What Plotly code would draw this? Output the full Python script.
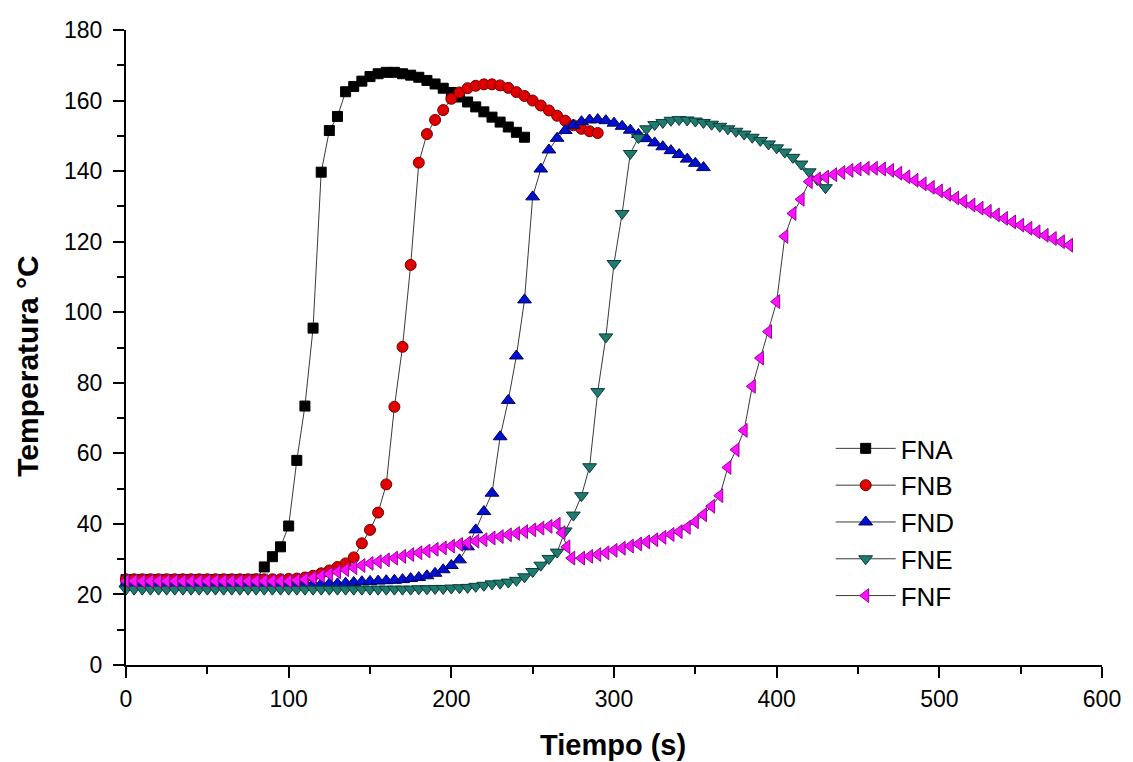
import plotly.graph_objects as go

# ---------------- data ----------------
fna_t = [0, 5, 10, 15, 20, 25, 30, 35, 40, 45, 50, 55, 60, 65, 70, 75, 80,
         85, 90, 95, 100, 105, 110, 115, 120, 125, 130, 135, 140, 145, 150,
         155, 160, 165, 170, 175, 180, 185, 190, 195, 200, 205, 210, 215,
         220, 225, 230, 235, 240, 245]
fna_T = [24.2, 24.2, 24.2, 24.2, 24.2, 24.2, 24.2, 24.2, 24.2, 24.2, 24.2,
         24.2, 24.2, 24.2, 24.2, 24.2, 24.3,
         27.8, 30.7, 33.5, 39.4, 58.0, 73.4, 95.5, 139.7, 151.5, 155.5,
         162.5, 164.0, 165.5, 166.8, 167.6, 168.0, 168.0, 167.6, 167.2,
         166.6, 165.7, 164.7, 163.5, 162.3, 161.0, 159.6, 158.2, 156.8,
         155.3, 153.9, 152.5, 151.0, 149.6]

fnb_t = [0, 5, 10, 15, 20, 25, 30, 35, 40, 45, 50, 55, 60, 65, 70, 75, 80,
         85, 90, 95, 100, 105, 110, 115, 120, 125, 130, 135, 140, 145, 150,
         155, 160, 165, 170, 175, 180, 185, 190, 195, 200, 205, 210, 215,
         220, 225, 230, 235, 240, 245, 250, 255, 260, 265, 270, 275, 280,
         285, 290]
fnb_T = [24.3, 24.3, 24.3, 24.3, 24.3, 24.3, 24.3, 24.3, 24.3, 24.3, 24.3,
         24.3, 24.3, 24.3, 24.3, 24.3, 24.3, 24.3, 24.3, 24.3, 24.4, 24.5,
         24.8, 25.3, 26.0, 26.8, 27.8, 28.8, 30.5, 34.5, 38.3, 43.2, 51.2,
         73.2, 90.2, 113.4, 142.4, 150.5, 154.5, 157.3, 160.5, 162.3, 163.5,
         164.2, 164.6, 164.6, 164.3, 163.6, 162.4, 161.3, 160.0, 158.6,
         157.2, 155.7, 154.3, 153.0, 152.0, 151.3, 150.8]

fnd_t = [0, 5, 10, 15, 20, 25, 30, 35, 40, 45, 50, 55, 60, 65, 70, 75, 80,
         85, 90, 95, 100, 105, 110, 115, 120, 125, 130, 135, 140, 145, 150,
         155, 160, 165, 170, 175, 180, 185, 190, 195, 200, 205, 210, 215,
         220, 225, 230, 235, 240, 245, 250, 255, 260, 265, 270, 275, 280,
         285, 290, 295, 300, 305, 310, 315, 320, 325, 330, 335, 340, 345,
         350, 355]
fnd_T = [23.0, 23.0, 23.0, 23.0, 23.0, 23.0, 23.0, 23.0, 23.0, 23.0, 23.0,
         23.0, 23.0, 23.0, 23.0, 23.0, 23.0, 23.0, 23.0, 23.0, 23.0, 23.0,
         23.0, 23.0, 23.0, 23.0, 23.0, 23.2, 23.4, 23.6, 23.7, 23.8, 23.9,
         24.0, 24.2, 24.5, 24.8, 25.3, 26.0, 27.0, 28.2, 29.8, 33.5, 38.3,
         43.5, 48.7, 64.7, 75.0, 87.6, 103.5, 132.7, 140.6, 146.0, 149.3,
         151.5, 153.0, 154.0, 154.5, 154.6, 154.3, 153.6, 152.7, 151.6,
         150.4, 149.2, 148.0, 146.9, 145.8, 144.7, 143.4, 142.2, 141.0]

fne_t = [0, 5, 10, 15, 20, 25, 30, 35, 40, 45, 50, 55, 60, 65, 70, 75, 80,
         85, 90, 95, 100, 105, 110, 115, 120, 125, 130, 135, 140, 145, 150,
         155, 160, 165, 170, 175, 180, 185, 190, 195, 200, 205, 210, 215,
         220, 225, 230, 235, 240, 245, 250, 255, 260, 265, 270, 275, 280,
         285, 290, 295, 300, 305, 310, 315, 320, 325, 330, 335, 340, 345,
         350, 355, 360, 365, 370, 375, 380, 385, 390, 395, 400, 405, 410,
         415, 420, 425, 430]
fne_T = [21.5, 21.5, 21.5, 21.5, 21.5, 21.5, 21.5, 21.5, 21.5, 21.5, 21.5,
         21.5, 21.5, 21.5, 21.5, 21.5, 21.5, 21.5, 21.5, 21.5, 21.5, 21.5,
         21.5, 21.5, 21.5, 21.5, 21.5, 21.5, 21.5, 21.5, 21.5, 21.5, 21.5,
         21.5, 21.5, 21.5, 21.6, 21.6, 21.7, 21.7, 21.8, 21.9, 22.0, 22.3,
         22.6, 23.0, 23.2, 23.5, 24.0, 25.0, 26.5, 28.3, 30.2, 32.0, 38.0,
         42.5, 48.0, 56.2, 77.5, 93.0, 113.8, 128.0, 145.0, 149.5, 152.0,
         153.2, 153.8, 154.4, 154.6, 154.5, 154.2, 153.8, 153.3, 152.7,
         152.0, 151.3, 150.5, 149.6, 148.7, 147.7, 146.6, 145.4, 143.9,
         142.0, 139.8, 137.6, 135.3]

fnf_t = [0, 5, 10, 15, 20, 25, 30, 35, 40, 45, 50, 55, 60, 65, 70, 75, 80,
         85, 90, 95, 100, 105, 110, 115, 120, 125, 130, 135, 140, 145, 150,
         155, 160, 165, 170, 175, 180, 185, 190, 195, 200, 205, 210, 215,
         220, 225, 230, 235, 240, 245, 250, 255, 260, 265, 268, 271, 274,
         280, 285, 290, 295, 300, 305, 310, 315, 320, 325, 330, 335, 340,
         345, 350, 355, 360, 365, 370, 375, 380, 385, 390, 395, 400, 405,
         410, 415, 420, 425, 430, 435, 440, 445, 450, 455, 460, 465, 470,
         475, 480, 485, 490, 495, 500, 505, 510, 515, 520, 525, 530, 535,
         540, 545, 550, 555, 560, 565, 570, 575, 580]
fnf_T = [23.8, 23.8, 23.8, 23.8, 23.8, 23.8, 23.8, 23.8, 23.8, 23.8, 23.8,
         23.8, 23.8, 23.8, 23.8, 23.8, 23.8, 23.8, 23.8, 23.8, 23.8, 24.0,
         24.3, 24.7, 25.2, 25.8, 26.4, 27.0, 27.6, 28.2, 28.8, 29.3, 29.8,
         30.3, 30.8, 31.3, 31.8, 32.3, 32.8, 33.2, 33.7, 34.2, 34.6, 35.1,
         35.5, 36.0, 36.4, 36.9, 37.3, 37.8, 38.3, 38.8, 39.3, 39.9, 37.5,
         33.5, 30.3, 30.3, 30.8, 31.3, 31.8, 32.5, 33.1, 33.7, 34.3, 34.9,
         35.5, 36.2, 37.0, 37.8, 39.0, 40.6, 42.6, 45.0, 48.0, 56.0, 61.0,
         66.5, 79.0, 87.0, 94.5, 103.0, 121.5, 128.0, 132.0, 137.0, 137.8,
         138.3, 139.0, 139.6, 140.2, 140.6, 140.8, 140.8, 140.6, 140.2,
         139.4, 138.4, 137.4, 136.4, 135.4, 134.4, 133.4, 132.4, 131.4,
         130.4, 129.5, 128.6, 127.6, 126.6, 125.6, 124.7, 123.8, 122.8,
         121.8, 120.9, 120.0, 119.0]

series_names = ["FNA", "FNB", "FND", "FNE", "FNF"]
x_ticks = [0, 100, 200, 300, 400, 500, 600]
y_ticks = [0, 20, 40, 60, 80, 100, 120, 140, 160, 180]

# ---------------- styling ----------------
styles = [
    dict(symbol="square", size=10, color="#000000", edge="#000000"),
    dict(symbol="circle", size=11, color="#e00000", edge="#700000"),
    dict(symbol="triangle-up", size=12, color="#0010d0", edge="#000060"),
    dict(symbol="triangle-down", size=12, color="#1f7a70", edge="#0b3a35"),
    dict(symbol="triangle-left", size=12, color="#ff10ff", edge="#9a009a"),
]
data = [(fna_t, fna_T), (fnb_t, fnb_T), (fnd_t, fnd_T), (fne_t, fne_T),
        (fnf_t, fnf_T)]

FONT = "Arial, 'Liberation Sans', sans-serif"

fig = go.Figure()
for name, (t, T), st in zip(series_names, data, styles):
    fig.add_trace(go.Scatter(
        x=t, y=T, name=name, mode="lines+markers",
        line=dict(color="#3a3a3a", width=1),
        marker=dict(symbol=st["symbol"], size=st["size"], color=st["color"],
                    line=dict(color=st["edge"], width=1)),
        cliponaxis=False,
    ))

axis_common = dict(
    showgrid=False, zeroline=False, showline=True, linecolor="black",
    linewidth=2, ticks="outside", ticklen=11, tickwidth=2, tickcolor="black",
    tickfont=dict(family=FONT, size=23, color="black"), mirror=False,
)

fig.update_layout(
    width=1133, height=762,
    margin=dict(l=126, r=23, t=30, b=97),
    paper_bgcolor="white", plot_bgcolor="white",
    xaxis=dict(range=[0, 600], tickvals=x_ticks, ticklabelstandoff=1,
               minor=dict(dtick=50, ticklen=7, tickwidth=2, tickcolor="black",
                          ticks="outside"),
               **axis_common),
    yaxis=dict(range=[0, 180], tickvals=y_ticks, ticklabelstandoff=6,
               minor=dict(dtick=10, ticklen=7, tickwidth=2, tickcolor="black",
                          ticks="outside"),
               **axis_common),
    legend=dict(x=0.722, y=0.378, xanchor="left", yanchor="top",
                bgcolor="rgba(0,0,0,0)", font=dict(family=FONT, size=26,
                                                    color="black"),
                itemwidth=60, tracegroupgap=0),
    showlegend=True,
    annotations=[
        dict(text="<b>Tiempo (s)</b>", xref="paper", yref="paper",
             x=0.499, y=0, yanchor="middle", yshift=-80, showarrow=False,
             font=dict(family=FONT, size=29, color="black")),
        dict(text="<b>Temperatura °C</b>", xref="paper", yref="paper",
             x=-0.1006, y=0.471, xanchor="center", yanchor="middle",
             textangle=-90, showarrow=False,
             font=dict(family=FONT, size=30, color="black")),
    ],
)

fig.write_html("out.html")
